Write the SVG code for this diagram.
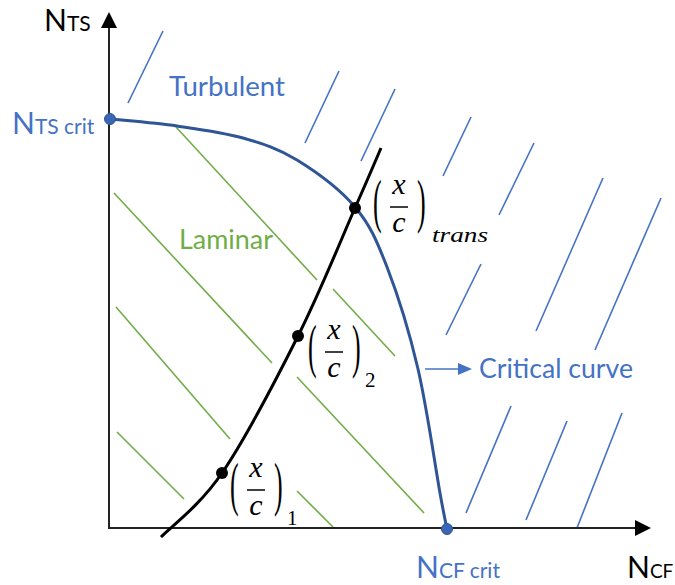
<svg xmlns="http://www.w3.org/2000/svg" width="675" height="585" viewBox="0 0 675 585">
<defs>
<style>
.hb{stroke:#4472C4;stroke-width:1.6;fill:none}
.hg{stroke:#70AD47;stroke-width:1.6;fill:none}
.lbl{font-family:Lato,"Open Sans","Liberation Sans",sans-serif}
.blue{fill:#4472C4}
.blk{fill:#000}
.green{fill:#70AD47}
.m{font-family:"Liberation Serif","DejaVu Serif",serif;font-style:italic;font-size:30px;fill:#000;text-anchor:middle}
.p{font-family:"Liberation Serif","DejaVu Serif",serif;font-size:26px;fill:#000}
.sub{font-family:"Liberation Serif","DejaVu Serif",serif;font-size:21px;fill:#000}
</style>
</defs>
<rect width="675" height="585" fill="#fff"/>
<g id="hatch-turbulent">
<line class="hb" x1="128" y1="103" x2="163" y2="31"/>
<line class="hb" x1="305" y1="143" x2="339" y2="71"/>
<line class="hb" x1="361" y1="161" x2="395" y2="89"/>
<line class="hb" x1="443" y1="176" x2="471" y2="117"/>
<line class="hb" x1="499" y1="215" x2="534" y2="143"/>
<line class="hb" x1="536" y1="331" x2="603" y2="178"/>
<line class="hb" x1="595" y1="350" x2="661" y2="198"/>
<line class="hb" x1="446" y1="335" x2="481" y2="264"/>
<line class="hb" x1="466" y1="513" x2="511" y2="406"/>
<line class="hb" x1="526" y1="520" x2="567" y2="421"/>
<line class="hb" x1="577" y1="528" x2="622" y2="413"/>
</g>
<g id="hatch-laminar">
<line class="hg" x1="176" y1="127" x2="317" y2="280"/>
<line class="hg" x1="114" y1="193" x2="272" y2="363"/>
<line class="hg" x1="116" y1="307" x2="230" y2="439"/>
<line class="hg" x1="117" y1="432" x2="184" y2="499"/>
<line class="hg" x1="333" y1="289" x2="395" y2="356"/>
<line class="hg" x1="297" y1="377" x2="424" y2="513"/>
<line class="hg" x1="297" y1="491" x2="333" y2="527"/>
</g>
<g id="axes">
<line x1="109" y1="529" x2="109" y2="26" stroke="#222" stroke-width="2"/>
<polygon points="109,12 101,28 117,28" fill="#000"/>
<line x1="109" y1="528" x2="636" y2="528" stroke="#222" stroke-width="2"/>
<polygon points="651,528 635,520 635,536" fill="#000"/>
</g>
<g id="connectors">
<path id="critical-curve" d="M110,119 C121.2,120.2 154.8,122.8 177,126 C199.2,129.2 223,132.3 243,138 C263,143.7 278.3,148.5 297,160 C315.7,171.5 340,189.2 355,207 C370,224.8 376.5,240 387,267 C397.5,294 409.2,331.3 418,369 C426.8,406.7 435.2,466.3 440,493 C444.8,519.7 445.8,523 447,529" fill="none" stroke="#2F5597" stroke-width="3"/>
<path id="path-curve" d="M161,537 C171.2,526.3 199.2,506.5 222,473 C244.8,439.5 275.8,380.2 298,336 C320.2,291.8 341.2,239.3 355,208 C368.8,176.7 376.7,158 381,148" fill="none" stroke="#000" stroke-width="3"/>
<line x1="425" y1="369" x2="460" y2="369" stroke="#4472C4" stroke-width="1.6"/>
<polygon points="458,363 472,369 458,375" fill="#4472C4"/>
</g>
<g id="points">
<circle cx="110" cy="119" r="5.5" fill="#3B66B5" stroke="#2F5597" stroke-width="1"/>
<circle cx="447" cy="529" r="5.5" fill="#3B66B5" stroke="#2F5597" stroke-width="1"/>
<circle cx="222" cy="473" r="6" fill="#000"/>
<circle cx="298" cy="336" r="6" fill="#000"/>
<circle cx="355" cy="208" r="6" fill="#000"/>
</g>
<g id="axis-labels">
<text class="lbl blk" x="44" y="31" font-size="30">N<tspan font-size="21">TS</tspan></text>
<text class="lbl blk" x="627" y="578" font-size="30">N<tspan font-size="19">CF</tspan></text>
<text class="lbl blue" x="12" y="134" font-size="30">N<tspan font-size="21">TS crit</tspan></text>
<text class="lbl blue" x="416" y="578" font-size="30">N<tspan font-size="21">CF crit</tspan></text>
</g>
<g id="region-labels">
<text class="lbl blue" x="169" y="96" font-size="26" textLength="116" lengthAdjust="spacingAndGlyphs">Turbulent</text>
<text class="lbl green" x="179" y="249" font-size="26" textLength="94" lengthAdjust="spacingAndGlyphs">Laminar</text>
<text class="lbl blue" x="479" y="378" font-size="26" textLength="154" lengthAdjust="spacingAndGlyphs">Critical curve</text>
</g>
<g id="label-xc1">
<text class="p" transform="translate(230,490) scale(1,2.3)" y="6">(</text>
<text class="m" x="256" y="477">x</text>
<line x1="247" y1="490" x2="265" y2="490" stroke="#000" stroke-width="1.5"/>
<text class="m" x="256" y="515">c</text>
<text class="p" transform="translate(274,490) scale(1,2.3)" y="6">)</text>
<text class="sub" x="287" y="525">1</text>
</g>
<g id="label-xc2">
<text class="p" transform="translate(308,352) scale(1,2.3)" y="6">(</text>
<text class="m" x="334" y="339">x</text>
<line x1="325" y1="352" x2="343" y2="352" stroke="#000" stroke-width="1.5"/>
<text class="m" x="334" y="377">c</text>
<text class="p" transform="translate(352,352) scale(1,2.3)" y="6">)</text>
<text class="sub" x="365" y="387">2</text>
</g>
<g id="label-xctrans">
<text class="p" transform="translate(373,207) scale(1,2.3)" y="6">(</text>
<text class="m" x="399" y="194">x</text>
<line x1="390" y1="207" x2="408" y2="207" stroke="#000" stroke-width="1.5"/>
<text class="m" x="399" y="232">c</text>
<text class="p" transform="translate(417,207) scale(1,2.3)" y="6">)</text>
<text class="sub" x="432" y="242" font-style="italic" font-size="26" textLength="56" lengthAdjust="spacingAndGlyphs">trans</text>
</g>
</svg>
